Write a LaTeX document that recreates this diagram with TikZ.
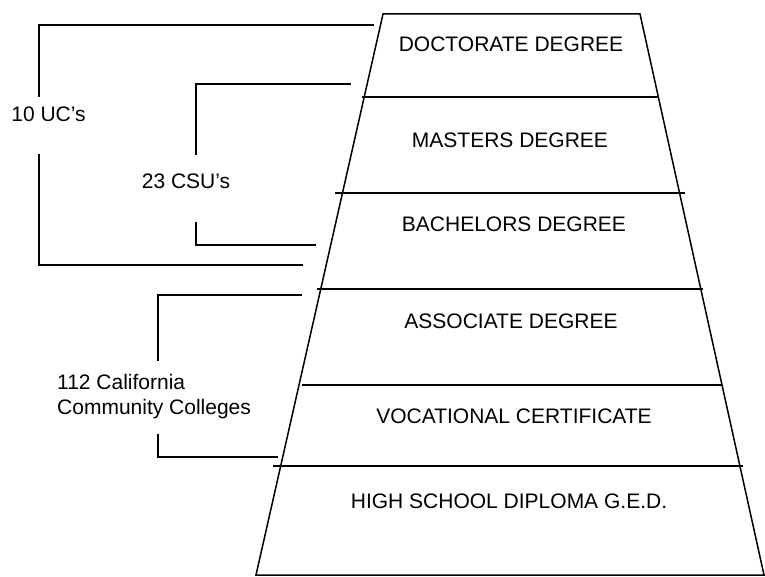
\documentclass[tikz,border=0pt]{standalone}
\usepackage{fontspec}
\setmainfont{Liberation Sans}
\usepackage{tikz}

\begin{document}
\begin{tikzpicture}[x=1pt,y=-1pt,
tier/.style={anchor=base,inner sep=0pt,
	font=\fontsize{21}{25}\selectfont},
note/.style={inner sep=0pt,font=\fontsize{21}{25}\selectfont},
bracket/.style={draw=black,line width=1.5pt},
shell/.style={draw=black,line width=1.5pt}
]
\useasboundingbox (0,0) rectangle (765,577);
\draw[shell] (383,14) -- (640,14) -- (764,575) -- (256,575) -- cycle;
\coordinate (l1) at (362,97);  \coordinate (r1) at (659,97);
\coordinate (l2) at (335,193); \coordinate (r2) at (685,193);
\coordinate (l3) at (317,289); \coordinate (r3) at (703,289);
\coordinate (l4) at (302,385); \coordinate (r4) at (722,385);
\coordinate (l5) at (273,466); \coordinate (r5) at (743,466);
\draw[shell] (l1) -- (r1);
\draw[shell] (l2) -- (r2);
\draw[shell] (l3) -- (r3);
\draw[shell] (l4) -- (r4);
\draw[shell] (l5) -- (r5);
\node[tier] (doct) at (511,52) {DOCTORATE DEGREE};
\node[tier] (mast) at (510,148) {MASTERS DEGREE};
\node[tier] (bach) at (514,232) {BACHELORS DEGREE};
\node[tier] (asso) at (511,328) {ASSOCIATE DEGREE};
\node[tier] (voca) at (514,423) {VOCATIONAL CERTIFICATE};
\node[tier] (high) at (509,508) {HIGH SCHOOL DIPLOMA G.E.D.};
\node[note,anchor=base] (uc) at (48.5,122) {10 UC's};
\node[note,anchor=base] (csu) at (186,189) {23 CSU's};
\node[note,anchor=west,align=left] (ccc) at (57,397) {112 California\\Community Colleges};
\coordinate (uc-a) at (374,25);  \coordinate (uc-b) at (303,265);
\coordinate (csu-a) at (351,84); \coordinate (csu-b) at (316,245);
\coordinate (ccc-a) at (302,295); \coordinate (ccc-b) at (278,457);
\draw[bracket] (uc-a) -- (39,25) -- (39,97);
\draw[bracket] (39,154) -- (39,265) -- (uc-b);
\draw[bracket] (csu-a) -- (196,84) -- (196,155);
\draw[bracket] (196,222) -- (196,245) -- (csu-b);
\draw[bracket] (ccc-a) -- (158,295) -- (158,361);
\draw[bracket] (158,434) -- (158,457) -- (ccc-b);
\end{tikzpicture}
\end{document}
